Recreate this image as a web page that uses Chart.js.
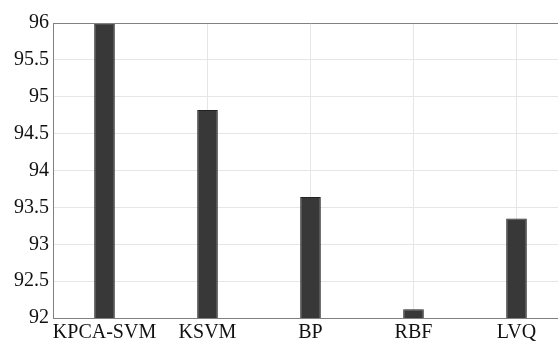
<!DOCTYPE html>
<html>
<head>
<meta charset="utf-8">
<script src="https://cdn.jsdelivr.net/npm/chart.js@4/dist/chart.umd.min.js"></script>
<style>
  html, body { margin: 0; padding: 0; background: #fff; overflow: hidden; }
  #wrap { width: 580px; height: 342px; }
</style>
</head>
<body>
<div id="wrap"><canvas id="chart" width="580" height="342"></canvas></div>
<script>
'use strict';

var methods = ['KPCA-SVM', 'KSVM', 'BP', 'RBF', 'LVQ'];
var accuracy = [95.99, 94.82, 93.64, 92.12, 93.35];
var yMin = 92;
var yMax = 96;
var yStep = 0.5;

Chart.defaults.font.family = 'Liberation Serif';
Chart.defaults.font.size = 20;
Chart.defaults.color = '#111';

// top edge of the box, like matlab draws it
var boxPlugin = {
  id: 'box',
  afterDraw: function (chart) {
    var ctx = chart.ctx;
    var area = chart.chartArea;
    ctx.save();
    ctx.strokeStyle = '#808080';
    ctx.lineWidth = 1;
    ctx.beginPath();
    ctx.moveTo(area.left, area.top + 0.5);
    ctx.lineTo(area.right, area.top + 0.5);
    ctx.stroke();
    ctx.restore();
  }
};

var ctx = document.getElementById('chart').getContext('2d');
new Chart(ctx, {
  type: 'bar',
  data: {
    labels: methods,
    datasets: [{
      data: accuracy,
      backgroundColor: '#383838',
      borderColor: '#222222',
      borderWidth: 1,
      barPercentage: 0.2,
      categoryPercentage: 1
    }]
  },
  options: {
    responsive: false,
    animation: false,
    layout: { padding: { top: 23, right: 12, bottom: 0, left: 0 } },
    plugins: {
      legend: { display: false },
      tooltip: { enabled: false }
    },
    scales: {
      x: {
        grid: { offset: false, color: '#e6e6e6', drawTicks: false },
        border: { color: '#808080' },
        ticks: {
          padding: 3,
          maxRotation: 0,
          autoSkip: false
        },
        afterFit: function (scale) { scale.height = 24; }
      },
      y: {
        min: yMin,
        max: yMax,
        grid: { color: '#e6e6e6', drawTicks: false },
        border: { color: '#808080' },
        ticks: {
          stepSize: yStep,
          padding: 4,
          callback: function (v) { return String(Math.round(v * 10) / 10); }
        },
        afterFit: function (scale) { scale.width = 53; }
      }
    }
  },
  plugins: [boxPlugin]
});
</script>
</body>
</html>
